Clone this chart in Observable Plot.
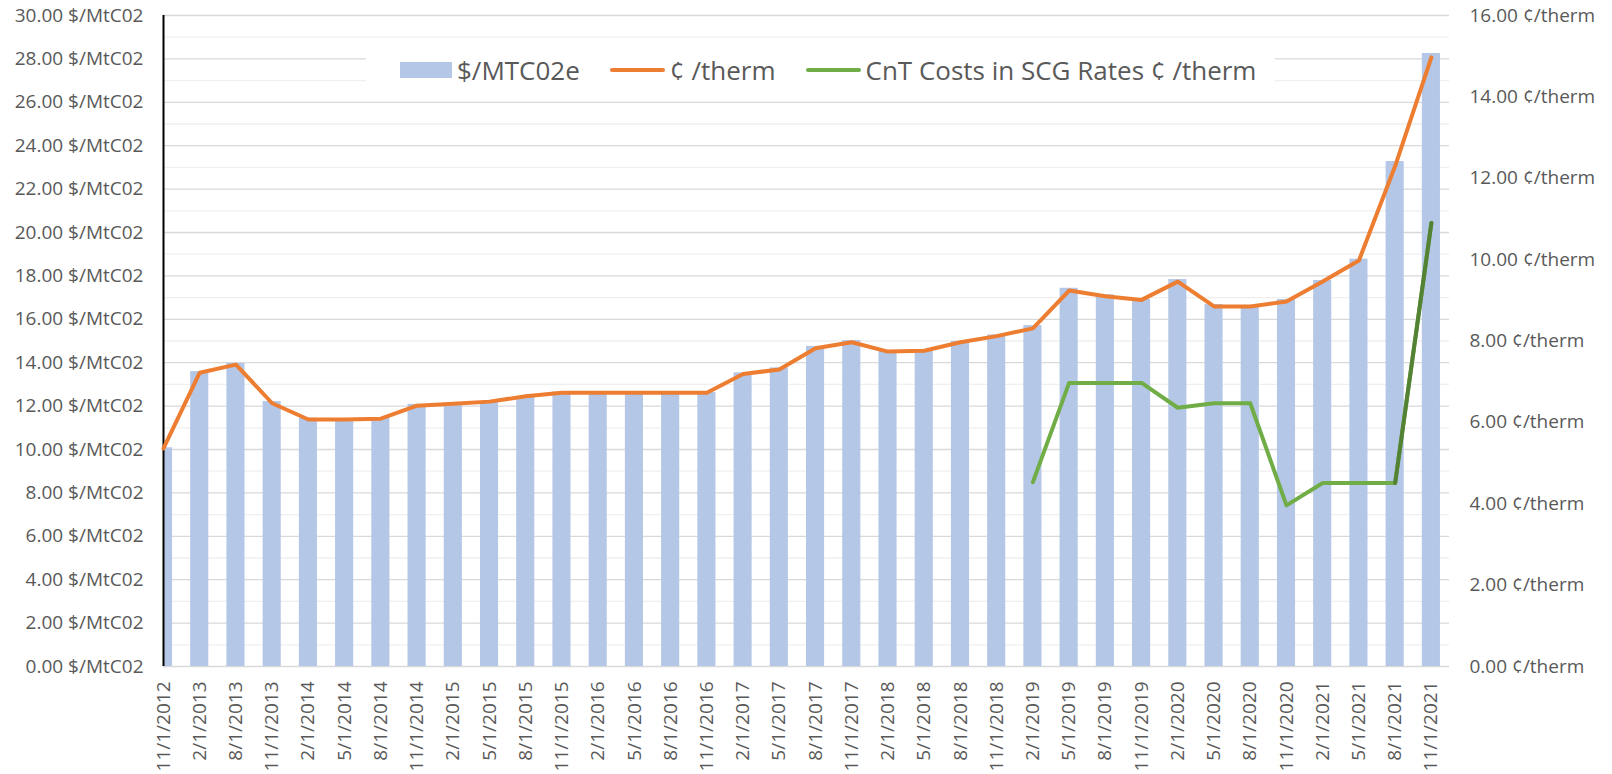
<!DOCTYPE html>
<html><head><meta charset="utf-8">
<script src="https://cdn.jsdelivr.net/npm/d3@7"></script>
<script src="https://cdn.jsdelivr.net/npm/@observablehq/plot@0.6"></script>
<style>
body{margin:0;background:#fff;}
#wrap{position:relative;width:1612px;height:774px;overflow:hidden;font-family:"Open Sans",sans-serif;}
#legend{position:absolute;left:366px;top:40px;width:909px;height:60px;background:#fff;display:flex;align-items:center;padding-left:34px;box-sizing:border-box;color:#595959;font-size:26px;white-space:nowrap;}
.item{display:flex;align-items:center;margin-right:30px;}
.sw{width:52px;height:16px;margin-right:5px;}
.ln{width:55px;height:4px;border-radius:2px;margin-right:5px;}
</style></head><body><div id="wrap"><div id="chart"></div><div id="legend"></div></div>
<script>
const categories = ["11/1/2012","2/1/2013","8/1/2013","11/1/2013","2/1/2014","5/1/2014","8/1/2014","11/1/2014","2/1/2015","5/1/2015","8/1/2015","11/1/2015","2/1/2016","5/1/2016","8/1/2016","11/1/2016","2/1/2017","5/1/2017","8/1/2017","11/1/2017","2/1/2018","5/1/2018","8/1/2018","11/1/2018","2/1/2019","5/1/2019","8/1/2019","11/1/2019","2/1/2020","5/1/2020","8/1/2020","11/1/2020","2/1/2021","5/1/2021","8/1/2021","11/1/2021"];
const co2Price = [10.08,13.59,13.97,12.21,11.44,11.42,11.46,12.08,12.14,12.21,12.41,12.65,12.63,12.63,12.63,12.63,13.53,13.76,14.75,15.02,14.53,14.56,14.98,15.28,15.71,17.43,17.13,16.91,17.83,16.68,16.64,16.91,17.79,18.77,23.27,28.25];
const centsPerTherm = [5.36,7.22,7.42,6.47,6.07,6.07,6.09,6.41,6.46,6.51,6.64,6.73,6.73,6.73,6.73,6.73,7.19,7.30,7.82,7.97,7.74,7.76,7.97,8.12,8.31,9.24,9.10,9.01,9.46,8.85,8.85,8.97,9.46,9.98,12.30,14.97];
const cntCosts = [null,null,null,null,null,null,null,null,null,null,null,null,null,null,null,null,null,null,null,null,null,null,null,null,4.53,6.97,6.97,6.97,6.36,6.47,6.47,3.96,4.51,4.51,4.51,10.90];
const leftTicks = [0,2,4,6,8,10,12,14,16,18,20,22,24,26,28,30];
const rightTicks = [0,2,4,6,8,10,12,14,16];
const seriesNames = ["$/MTC02e","¢ /therm","CnT Costs in SCG Rates ¢ /therm"];

const idx = d3.range(categories.length);
const rows = idx.map(i => ({i, cat: categories[i], price: co2Price[i], therm: centsPerTherm[i], cnt: cntCosts[i]}));
const cntRows = rows.filter(d => d.cnt != null);
const lastSeg = cntRows.slice(-2);
const toLeft = d3.scaleLinear([0, 16], [0, 30]);
const minor = d3.range(1, 30, 2);

const lineStyle = {strokeWidth: 4, strokeLinejoin: "round", strokeLinecap: "round"};

const plot = Plot.plot({
  width: 1612, height: 774,
  marginLeft: 163, marginRight: 163, marginTop: 15, marginBottom: 108,
  style: {fontFamily: "'Open Sans', sans-serif", fontSize: "19px", color: "#595959", background: "white"},
  x: {type: "linear", domain: [0, 35.5], axis: null, label: null},
  y: {domain: [0, 30], axis: null, label: null},
  marks: [
    Plot.ruleY(minor, {stroke: "#efefef", strokeWidth: 1.3}),
    Plot.ruleY(leftTicks, {stroke: "#d9d9d9", strokeWidth: 1.3}),
    Plot.rectY(rows, {x1: d => d.i - 0.25, x2: d => d.i + 0.25, y1: 0, y2: "price", fill: "#b4c7e7", clip: true}),
    Plot.ruleX([0], {y1: 0, y2: 30, stroke: "black", strokeWidth: 2}),
    Plot.line(rows, {x: "i", y: d => toLeft(d.therm), stroke: "#ed7d31", ...lineStyle}),
    Plot.line(cntRows, {x: "i", y: d => toLeft(d.cnt), stroke: "#70ad47", ...lineStyle}),
    Plot.line(lastSeg, {x: "i", y: d => toLeft(d.cnt), stroke: "#548235", ...lineStyle}),
    Plot.axisY(leftTicks, {anchor: "left", tickSize: 0, tickPadding: 20, label: null, fill: "#595959", tickFormat: d => d.toFixed(2) + " $/MtC02"}),
    Plot.axisY(rightTicks.map(toLeft), {anchor: "right", tickSize: 0, tickPadding: 20, label: null, fill: "#595959", textAnchor: "start", tickFormat: v => toLeft.invert(v).toFixed(2) + " ¢/therm"}),
    Plot.axisX(idx, {anchor: "bottom", tickSize: 0, tickPadding: 15, tickRotate: -90, label: null, fill: "#595959", tickFormat: i => categories[i]})
  ]
});
document.getElementById("chart").appendChild(plot);

const legend = document.getElementById("legend");
const swatches = [
  `<span class="sw" style="background:#b4c7e7"></span>`,
  `<span class="ln" style="background:#ed7d31"></span>`,
  `<span class="ln" style="background:#70ad47"></span>`
];
seriesNames.forEach((n, k) => {
  const el = document.createElement("div");
  el.className = "item";
  el.innerHTML = swatches[k] + `<span>${n}</span>`;
  legend.appendChild(el);
});
</script></body></html>
